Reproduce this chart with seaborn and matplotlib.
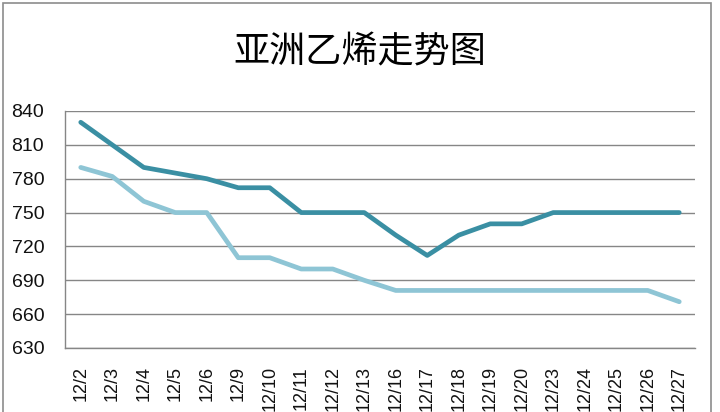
import matplotlib
matplotlib.use("Agg")
import matplotlib.pyplot as plt
import seaborn as sns
import pandas as pd
from matplotlib.patches import Rectangle

dates = ["12/2", "12/3", "12/4", "12/5", "12/6", "12/9", "12/10", "12/11", "12/12", "12/13",
         "12/16", "12/17", "12/18", "12/19", "12/20", "12/23", "12/24", "12/25", "12/26", "12/27"]
series_dark = [830, 810, 790, 785, 780, 772, 772, 750, 750, 750,
               730, 712, 730, 740, 740, 750, 750, 750, 750, 750]
series_light = [790, 782, 760, 750, 750, 710, 710, 700, 700, 690,
                681, 681, 681, 681, 681, 681, 681, 681, 681, 671]
yticks = [630, 660, 690, 720, 750, 780, 810, 840]
title = "亚洲乙烯走势图"

sns.set_theme(style="white")
plt.rcParams['font.family'] = ['Liberation Sans', 'DejaVu Sans', 'Noto Sans CJK SC']

df = pd.DataFrame({
    "date": dates * 2,
    "value": series_dark + series_light,
    "series": ["dark"] * len(dates) + ["light"] * len(dates),
})

fig = plt.figure(figsize=(7.2, 4.12), dpi=100)
ax = fig.add_axes([65 / 720, 1 - 348 / 412, 630 / 720, 237 / 412])

sns.lineplot(data=df, x="date", y="value", hue="series", sort=False,
             palette={"dark": "#3A8FA3", "light": "#8EC5D5"},
             linewidth=3.4, legend=False, ax=ax)

ax.set_ylim(630, 840)
ax.set_xlim(-0.5, len(dates) - 0.5)
ax.set_yticks(yticks)
ax.set_yticklabels([str(v) for v in yticks], fontsize=14, color="#111111")
ax.set_xticks(range(len(dates)))
ax.set_xticklabels(dates, rotation=90, fontsize=13, color="#111111", va="top", ha="center")
ax.tick_params(axis="y", length=0, pad=15)
ax.tick_params(axis="x", length=0, pad=13)
ax.set_xlabel("")
ax.set_ylabel("")

ax.grid(axis="y", color="#868686", linewidth=1.0)
ax.grid(axis="x", visible=False)
ax.set_axisbelow(True)
for s in ["top", "right"]:
    ax.spines[s].set_visible(False)
ax.spines["left"].set_color("#868686")
ax.spines["bottom"].set_color("#868686")
ax.spines["left"].set_linewidth(1.0)
ax.spines["bottom"].set_linewidth(1.0)

fig.text(360 / 720, 1 - 52 / 412, title, ha="center", va="center", fontsize=26,
         family=["Noto Sans CJK SC", "DejaVu Sans"], color="#000000")

fig.patches.append(Rectangle((3 / 720, -0.1), 708 / 720, 1.1 - 3 / 412,
                             transform=fig.transFigure, fill=False,
                             edgecolor="#8c8c8c", linewidth=1.2))

fig.savefig("out.png", dpi=100)
